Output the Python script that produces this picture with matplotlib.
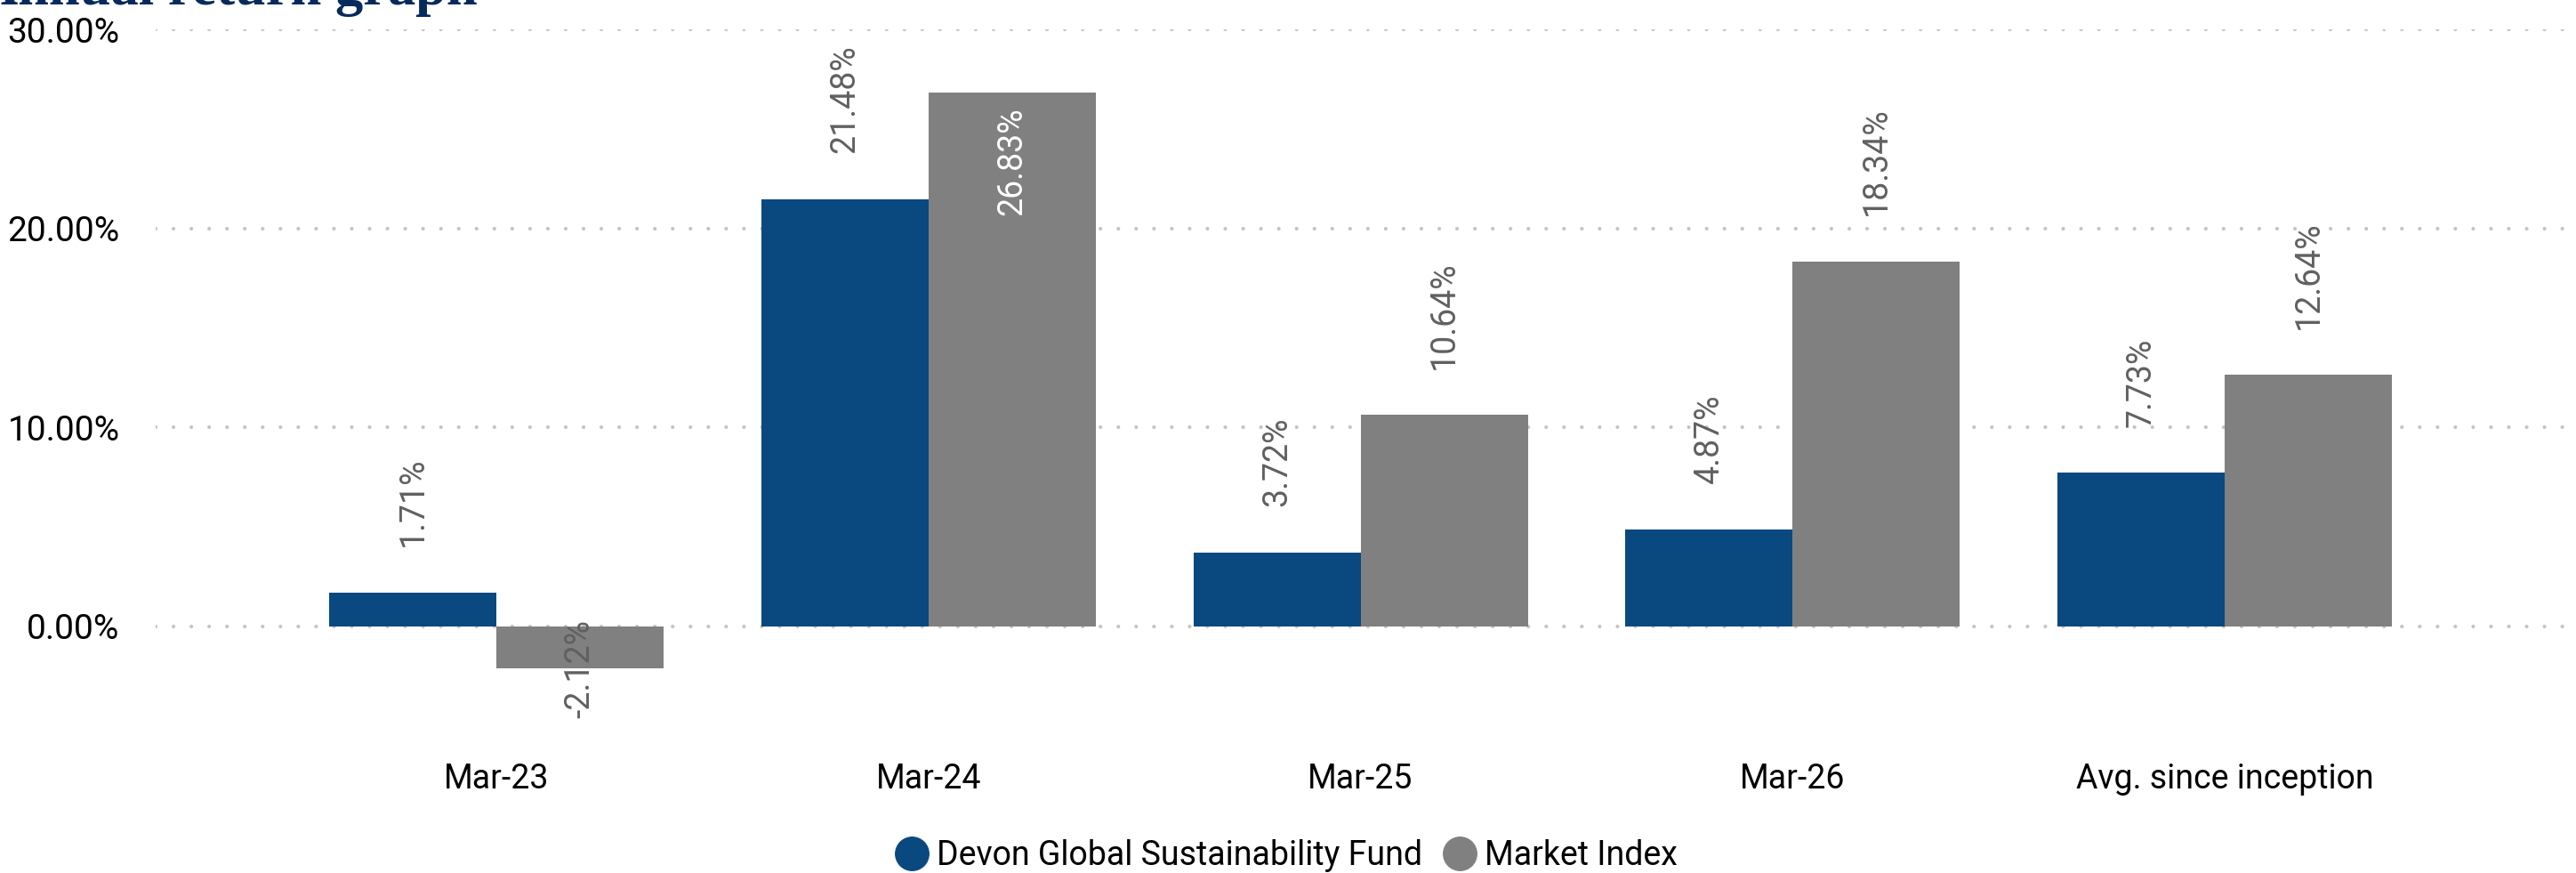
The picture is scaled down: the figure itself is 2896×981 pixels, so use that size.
import matplotlib
matplotlib.use("Agg")
import matplotlib.pyplot as plt
from matplotlib.lines import Line2D
import numpy as np

plt.rcParams["font.family"] = ["Roboto", "DejaVu Sans"]
plt.rcParams["lines.dash_capstyle"] = "round"

# ----------------------------- data ---------------------------------------
categories = ["Mar-23", "Mar-24", "Mar-25", "Mar-26", "Avg. since inception"]
fund_returns = [1.71, 21.48, 3.72, 4.87, 7.73]
index_returns = [-2.12, 26.83, 10.64, 18.34, 12.64]
series_names = ["Devon Global Sustainability Fund", "Market Index"]
y_ticks = [0, 10, 20, 30]

BLUE = "#0a4880"
GREY = "#808080"
LABEL_GREY = "#606060"
TITLE_NAVY = "#062a5c"

W, H = 2896, 981
fig = plt.figure(figsize=(W / 100, H / 100), dpi=100)
ax = fig.add_axes([175 / W, 1 - 815.8 / H, 1 - 175 / W, (815.8 - 33) / H])

x = np.arange(len(categories))
bw = 0.387
ax.bar(x - bw / 2, fund_returns, bw, color=BLUE, zorder=2)
ax.bar(x + bw / 2, index_returns, bw, color=GREY, zorder=2)

ax.set_xlim(-0.7885, 4.813)
ax.set_ylim(-5, 30)

# data labels: rotated, outside end; inside if no room, centred on end if negative
for xs, vals in ((x - bw / 2, fund_returns), (x + bw / 2, index_returns)):
    for xi, v in zip(xs, vals):
        txt = f"{v:.2f}%"
        if v < 0:
            ax.annotate(txt, (xi, v), xytext=(0, 0), textcoords="offset points",
                        rotation=90, ha="center", va="center",
                        fontsize=27, color=LABEL_GREY, zorder=3)
        elif v > 25:
            ax.annotate(txt, (xi, v), xytext=(0, -12), textcoords="offset points",
                        rotation=90, ha="center", va="top",
                        fontsize=27, color="white", zorder=3)
        else:
            ax.annotate(txt, (xi, v), xytext=(0, 37), textcoords="offset points",
                        rotation=90, ha="center", va="bottom",
                        fontsize=27, color=LABEL_GREY, zorder=3)

ax.set_yticks(y_ticks)
ax.set_yticklabels([f"{t:.2f}%" for t in y_ticks])
ax.set_xticks(x)
ax.set_xticklabels(categories)
ax.tick_params(axis="y", length=0, pad=29, labelsize=28, labelcolor="black")
ax.tick_params(axis="x", length=0, pad=30, labelsize=27, labelcolor="black")

ax.grid(axis="y", color="#c4c4c4", linewidth=3.0, linestyle=(0, (0.01, 4.8)),
        zorder=0)
ax.grid(axis="x", visible=False)
for gl in ax.get_ygridlines():
    gl.set_dash_capstyle("round")
for s in ax.spines.values():
    s.set_visible(False)

# title, clipped at the top-left like the source
fig.text(537 / W, 1 - 5 / H, "Annual return graph", ha="right", va="baseline",
         family=["Liberation Serif", "DejaVu Serif"], fontweight="bold",
         fontsize=45, color=TITLE_NAVY)

handles = [Line2D([], [], linestyle="none", marker="o", markersize=27,
                  markerfacecolor=c, markeredgecolor=c)
           for c in (BLUE, GREY)]
fig.legend(handles, series_names, loc="center",
           bbox_to_anchor=(1446 / W, 1 - 962 / H), ncol=2, frameon=False,
           fontsize=27, handlelength=1.0, handletextpad=0.25,
           columnspacing=0.6, borderpad=0, borderaxespad=0)

fig.savefig("out.png", dpi=100)
